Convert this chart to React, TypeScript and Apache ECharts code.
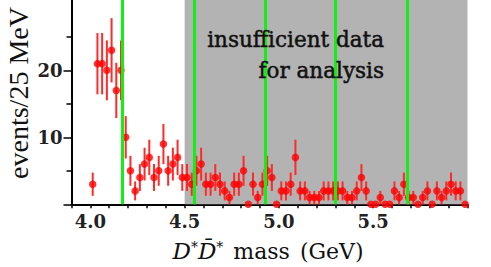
import { useEffect, useRef } from "react";
import * as echarts from "echarts";

// histogram binning (25 MeV bins starting at 4.0 GeV)
const binStart = 4.0;
const binWidth = 0.025;
// events per bin
const counts = [
  3, 21, 21, 20, 23, 17, 20, 10, 5, 2,
  4, 6, 7, 4, 5, 9, 5, 6, 7, 4,
  4, 3, 5, 6, 3, 3, 4, 3, 2, 1,
  3, 3, 5, 0, 3, 1, 3, 5, 4, 0,
  2, 2, 3, 7, 2, 2, 1, 1, 1, 2,
  2, 2, 2, 2, 1, 1, 2, 4, 2, 0,
  0, 1, 0, 0, 2, 1, 3, 1, 1, 0,
  1, 2, 0, 2, 1, 2, 3, 2, 2, 0,
];
// green threshold lines (GeV)
const thresholds = [4.17, 4.55, 4.93, 5.3, 5.68];
// shaded region (GeV)
const shadedRange = [4.5, 6.0];
const xRange = [3.9, 6.0];
const yRange = [0, 30.5];
const xTickLabels = [4.0, 4.5, 5.0, 5.5];
const yTickMajor = [0, 10, 20];
const yTickLabels = [10, 20];
const yTickMinor = [5, 15, 25];

export default function App() {
  const ref = useRef<HTMLDivElement>(null);
  useEffect(() => {
    if (!ref.current) return;
    const chart = echarts.init(ref.current, undefined, { renderer: "svg" });
    const data = counts.map((c, i) => [binStart + binWidth * (i + 0.5), c]);
    const tickFont = { fontFamily: "DejaVu Serif", fontWeight: "bold" as const, fontSize: 18, color: "#222" };
    chart.setOption({
      animation: false,
      grid: { left: 71.5, right: 23.5, top: 0, bottom: 62.7, outerBoundsMode: "none" },
      xAxis: {
        type: "value",
        min: xRange[0],
        max: xRange[1],
        interval: 0.1,
        axisLine: { show: true, lineStyle: { color: "#000", width: 2 } },
        axisTick: { show: true, length: 4, lineStyle: { color: "#000", width: 1.5 } },
        axisLabel: {
          show: true,
          customValues: xTickLabels,
          formatter: (v: number) => v.toFixed(1),
          margin: 8,
          ...tickFont,
        },
        splitLine: { show: false },
      },
      yAxis: [
        {
          type: "value",
          min: yRange[0],
          max: yRange[1],
          position: "left",
          axisLine: { show: true, lineStyle: { color: "#000", width: 2 } },
          axisTick: { show: true, length: 8, customValues: yTickMajor, lineStyle: { color: "#000", width: 1.5 } },
          axisLabel: { show: true, customValues: yTickLabels, margin: 9, ...tickFont },
          splitLine: { show: false },
        },
        {
          type: "value",
          min: yRange[0],
          max: yRange[1],
          position: "left",
          offset: 0,
          axisLine: { show: false },
          axisTick: { show: true, length: 5, customValues: yTickMinor, lineStyle: { color: "#000", width: 1.5 } },
          axisLabel: { show: false },
          splitLine: { show: false },
        },
      ],
      series: [
        {
          type: "line",
          data: [],
          z: 1,
          silent: true,
          markArea: {
            silent: true,
            itemStyle: { color: "#b3b3b3", opacity: 1 },
            label: { show: false },
            data: [[{ xAxis: shadedRange[0] }, { xAxis: shadedRange[1] }]],
          },
        },
        {
          type: "line",
          data: [],
          z: 2,
          silent: true,
          markLine: {
            silent: true,
            symbol: ["none", "none"],
            label: { show: false },
            lineStyle: { color: "#12f012", width: 3, type: "solid" },
            data: thresholds.map((t) => ({ xAxis: t })),
          },
        },
        {
          type: "custom",
          z: 3,
          data,
          renderItem: (params: any, api: any) => {
            const x = api.value(0);
            const v = api.value(1);
            const e = Math.sqrt(v);
            if (!e) return { type: "group", children: [] };
            const p1 = api.coord([x, v - e]);
            const p2 = api.coord([x, v + e]);
            return {
              type: "line",
              shape: { x1: p1[0], y1: p1[1], x2: p2[0], y2: p2[1] },
              style: { stroke: "#ff2a2a", lineWidth: 2 },
            };
          },
        },
        {
          type: "scatter",
          z: 4,
          data,
          symbol: "circle",
          symbolSize: 7.5,
          clip: false,
          itemStyle: { color: "#ff0000" },
        },
      ],
      graphic: [
        {
          type: "text",
          z: 10,
          x: 384,
          y: 55,
          style: {
            text: "insufficient data\nfor analysis",
            font: '21.5px "DejaVu Serif"',
            fill: "#111",
            stroke: "#111",
            lineWidth: 0.5,
            align: "right",
            verticalAlign: "middle",
            lineHeight: 31,
          },
        },
        {
          type: "text",
          x: 18,
          y: 93,
          rotation: Math.PI / 2,
          style: {
            text: "events/25 MeV",
            font: '28px "Liberation Serif"',
            fill: "#111",
            align: "center",
            verticalAlign: "middle",
          },
        },
        {
          type: "text",
          x: 268,
          y: 251,
          style: {
            text: "{i|D}{s|*}{i|D\u0304}{s|*}   {r|mass}   {r|(GeV)}",
            align: "center",
            verticalAlign: "middle",
            fill: "#111",
            rich: {
              i: { fontFamily: "DejaVu Serif", fontStyle: "italic", fontSize: 23, color: "#111" },
              s: { fontFamily: "DejaVu Serif", fontSize: 14, color: "#111", verticalAlign: "top" },
              r: { fontFamily: "DejaVu Serif", fontSize: 22, color: "#111" },
            },
          },
        },
      ],
    });
    return () => chart.dispose();
  }, []);
  return (
    <div
      ref={ref}
      style={{ position: "absolute", left: 0, top: 0, width: 491, height: 267 }}
    />
  );
}
